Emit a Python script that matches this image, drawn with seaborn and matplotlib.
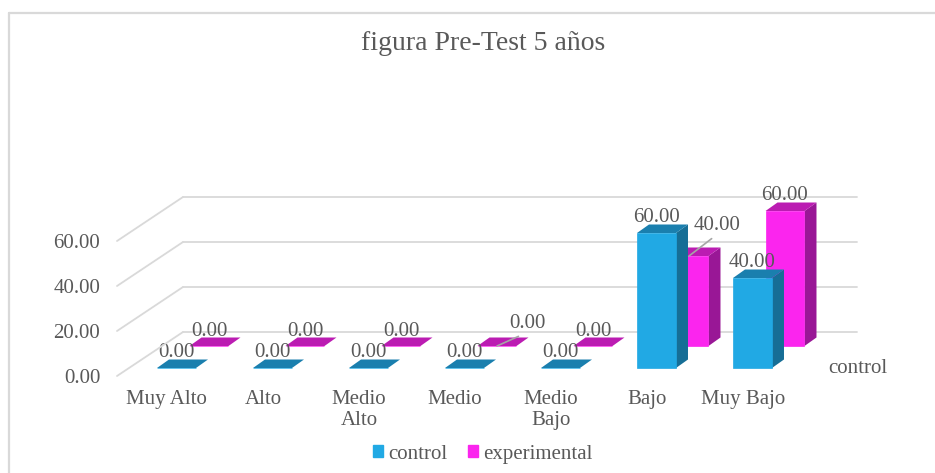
import matplotlib
matplotlib.use('Agg')
import matplotlib.pyplot as plt
import seaborn as sns
import numpy as np
from matplotlib.lines import Line2D
from matplotlib.patches import ConnectionPatch, Patch, Polygon

# Datos
categorias = ['Muy Alto', 'Alto', 'Medio\nAlto', 'Medio', 'Medio\nBajo', 'Bajo', 'Muy Bajo']
control = [0, 0, 0, 0, 0, 60, 40]
experimental = [0, 0, 0, 0, 0, 40, 60]
ticks_y = [0, 20, 40, 60]

# Colores
azul, azul_top, azul_lado = '#21A9E4', '#1A7FAE', '#166E96'
rosa, rosa_top, rosa_lado = '#FB25EE', '#BB1CB2', '#991796'
gris_texto = '#595959'
gris_linea = '#D9D9D9'

W, H = 935, 473
PX_CAT = 96
PX_UNIDAD = 2.25
FUENTE = 15

sns.set_theme(style='white')
plt.rcParams['font.family'] = ['Liberation Serif', 'DejaVu Serif']
plt.rcParams['text.color'] = gris_texto

fig = plt.figure(figsize=(W / 100, H / 100), dpi=100, facecolor='white')


def crear_ejes(izq, base, ancho, alto):
    # posicion en pixeles de la imagen (y hacia abajo)
    ax = fig.add_axes([izq / W, 1 - base / H, ancho / W, alto / H])
    ax.patch.set_alpha(0)
    sns.despine(ax=ax, left=True, bottom=True)
    return ax


def barras_3d(ax, valores, color, c_top, c_lado):
    sns.barplot(x=categorias, y=valores, color=color, saturation=1, width=0.406,
                edgecolor=color, linewidth=0.5, ax=ax)
    ax.set_xlim(-0.5, 6.5)
    ax.set_ylim(0, 60)
    dx = 12.0 / PX_CAT
    dy = 8.5 / PX_UNIDAD
    for p in list(ax.patches):
        x0, w, h = p.get_x(), p.get_width(), p.get_height()
        ax.add_patch(Polygon([(x0 + w, 0), (x0 + w + dx, dy), (x0 + w + dx, h + dy), (x0 + w, h)],
                             facecolor=c_lado, edgecolor='none', clip_on=False, zorder=3))
        ax.add_patch(Polygon([(x0, h), (x0 + dx, h + dy), (x0 + w + dx, h + dy), (x0 + w, h)],
                             facecolor=c_top, edgecolor='none', clip_on=False, zorder=3))
        p.set_zorder(4)
        p.set_clip_on(False)
    ax.set_ylabel('')
    ax.set_yticks([])


def etiquetas(ax, valores, alto_px, movidas):
    for i, v in enumerate(valores):
        desp = movidas.get(i)
        if desp is None:
            ax.annotate(f'{v:.2f}', xy=(i, v), xytext=(0, alto_px), textcoords='offset pixels',
                        ha='center', va='center', fontsize=FUENTE, color=gris_texto,
                        annotation_clip=False, zorder=6)
        else:
            ax.annotate(f'{v:.2f}', xy=(i, v), xytext=desp, textcoords='offset pixels',
                        ha='center', va='center', fontsize=FUENTE, color=gris_texto,
                        annotation_clip=False, zorder=6,
                        arrowprops=dict(arrowstyle='-', color='#A6A6A6', lw=1.2, relpos=(0.5, 0),
                                        shrinkA=1, shrinkB=0, patchB=None))


# Pared del fondo con las lineas de la cuadricula
ax_pared = crear_ejes(183, 332, 674, 135)
ax_pared.set_xlim(0, 1)
ax_pared.set_ylim(0, 60)
ax_pared.set_xticks([])
ax_pared.set_yticks(ticks_y)
ax_pared.set_yticklabels([])
ax_pared.tick_params(length=0)
ax_pared.grid(axis='y', color=gris_linea, lw=1.3, clip_on=False)
ax_pared.set_axisbelow(True)

# Eje de valores en el plano delantero
ax_val = crear_ejes(117, 376, 10, 135)
ax_val.set_xlim(0, 1)
ax_val.set_ylim(0, 60)
ax_val.set_xticks([])
ax_val.set_yticks(ticks_y)
ax_val.set_yticklabels([f'{t:.2f}' for t in ticks_y], fontsize=FUENTE, color=gris_texto)
ax_val.tick_params(axis='y', length=0, pad=12)
for lab in ax_val.get_yticklabels():
    lab.set_va('center_baseline')
for t in ticks_y:
    fig.add_artist(ConnectionPatch((0, t), (0, t), coordsA=ax_val.get_yaxis_transform(),
                                   coordsB=ax_pared.get_yaxis_transform(),
                                   color=gris_linea, lw=1.3))

# Serie experimental (fila de atras)
ax_exp = crear_ejes(161, 346, PX_CAT * 7, 135)
barras_3d(ax_exp, experimental, rosa, rosa_top, rosa_lado)
ax_exp.set_xticks([])
etiquetas(ax_exp, experimental, 15, {3: (30, 23), 5: (28, 31)})

# Serie control (fila de delante)
ax_ctrl = crear_ejes(128.5, 368, PX_CAT * 7, 135)
barras_3d(ax_ctrl, control, azul, azul_top, azul_lado)
ax_ctrl.set_xticks(np.arange(7) - 0.1)
ax_ctrl.set_xticklabels(categorias, fontsize=FUENTE, color=gris_texto, linespacing=1.2)
ax_ctrl.tick_params(axis='x', length=0, pad=15.5)
etiquetas(ax_ctrl, control, 16, {})

# Titulo, texto suelto y leyenda
fig.text(483.5 / W, 1 - 44 / H, 'figura Pre-Test 5 años', ha='center', va='center',
         fontsize=20, color=gris_texto)
fig.text(858 / W, 1 - 368 / H, 'control', ha='center', va='center',
         fontsize=FUENTE, color=gris_texto)
fig.legend(handles=[Patch(color=azul, label='control'), Patch(color=rosa, label='experimental')],
           loc='center', bbox_to_anchor=(483 / W, 1 - 454 / H), ncol=2, frameon=False,
           fontsize=FUENTE, labelcolor=gris_texto, handlelength=0.48, handleheight=0.48,
           handletextpad=0.25, columnspacing=1.0, borderpad=0)

# Marco del grafico (solo arriba e izquierda)
fig.add_artist(Line2D([9 / W, 1], [1 - 13 / H, 1 - 13 / H], color=gris_linea, lw=1.6))
fig.add_artist(Line2D([9 / W, 9 / W], [0, 1 - 13 / H], color=gris_linea, lw=1.6))

fig.savefig('out.png', dpi=100, facecolor='white')
